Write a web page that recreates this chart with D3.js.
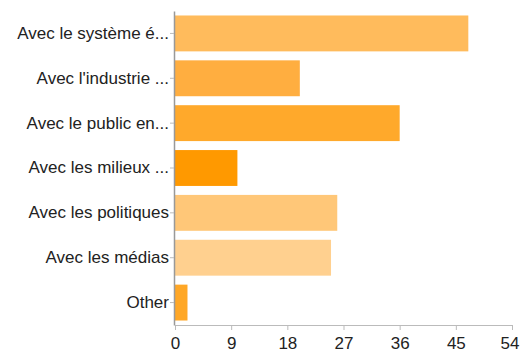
<!DOCTYPE html>
<html>
<head>
<meta charset="utf-8">
<script src="https://cdn.jsdelivr.net/npm/d3@7"></script>
<style>
  html, body { margin: 0; padding: 0; background: #fff; }
  svg { display: block; }
  .axis text { font-family: "Liberation Sans", Arial, sans-serif; font-size: 17px; fill: #222; }
</style>
</head>
<body>
<div id="chart"></div>
<script>
// Data
const categories = [
    'Avec le système é...',
    "Avec l'industrie ...",
    'Avec le public en...',
    'Avec les milieux ...',
    'Avec les politiques',
    'Avec les médias',
    'Other'
];
const counts = [47, 20, 36, 10, 26, 25, 2];
const barColors = ['#FFBB5C', '#FFAE40', '#FFA92B', '#FF9900', '#FFC778', '#FFD08F', '#FFA726'];
const xTicks = [0, 9, 18, 27, 36, 45, 54];

const width = 520, height = 352;
const margin = { top: 11, right: 8, bottom: 27, left: 175 };

const svg = d3.select('#chart')
    .append('svg')
    .attr('width', width)
    .attr('height', height);

const x = d3.scaleLinear()
    .domain([0, 54])
    .range([margin.left, width - margin.right]);

const y = d3.scaleBand()
    .domain(categories)
    .range([margin.top, height - margin.bottom])
    .paddingInner(0.2)
    .paddingOuter(0.1);

// Bars
svg.append('g')
    .selectAll('rect')
    .data(categories)
    .join('rect')
    .attr('x', x(0))
    .attr('y', d => y(d))
    .attr('width', (d, i) => x(counts[i]) - x(0))
    .attr('height', y.bandwidth())
    .attr('fill', (d, i) => barColors[i]);

// Bottom axis
const xAxis = svg.append('g')
    .attr('class', 'axis')
    .attr('transform', `translate(0,${height - margin.bottom})`)
    .call(d3.axisBottom(x).tickValues(xTicks).tickSize(5).tickSizeOuter(0).tickPadding(7));
xAxis.select('.domain').attr('stroke', '#bbb');
xAxis.selectAll('.tick line').attr('stroke', '#bbb');
// keep the last label inside the window
xAxis.selectAll('.tick text')
    .filter(d => d === 54)
    .attr('text-anchor', 'end')
    .attr('x', width - margin.right - x(54) + 7);

// Left axis
const yAxis = svg.append('g')
    .attr('class', 'axis')
    .attr('transform', `translate(${margin.left - 1},0)`)
    .call(d3.axisLeft(y).tickSize(4).tickSizeOuter(0).tickPadding(1));
yAxis.select('.domain').attr('stroke', '#999').attr('stroke-width', 1.5);
yAxis.selectAll('.tick line').attr('stroke', '#bbb');
</script>
</body>
</html>
